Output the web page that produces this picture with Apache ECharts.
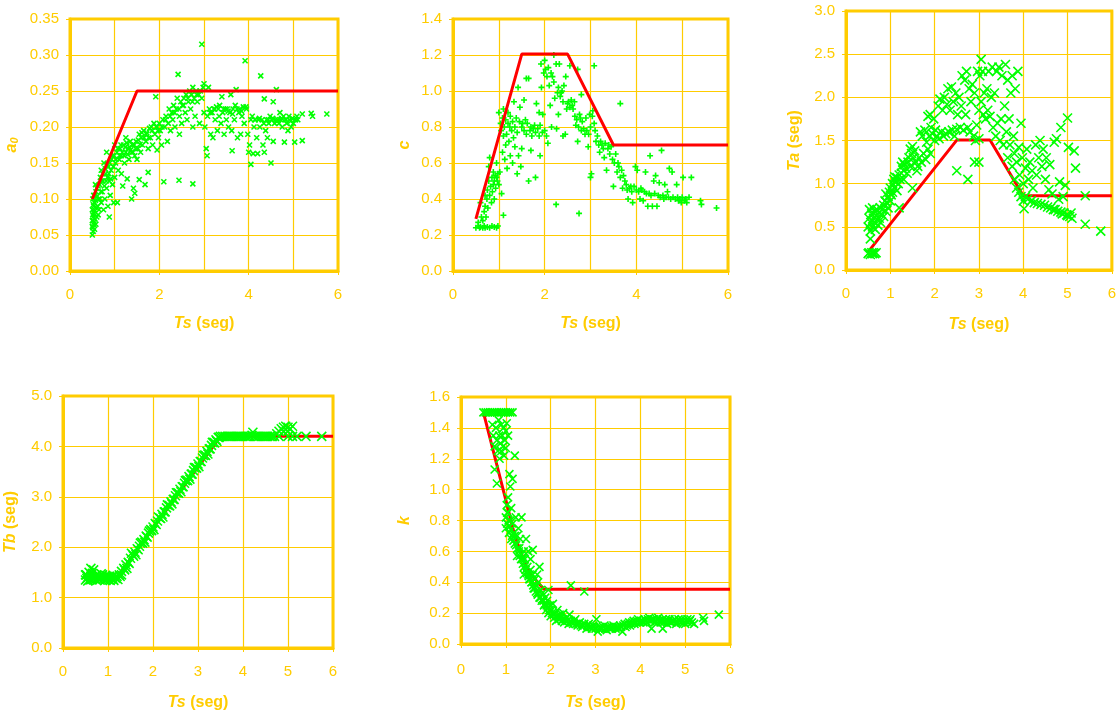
<!DOCTYPE html>
<html><head><meta charset="utf-8">
<script src="https://cdn.jsdelivr.net/npm/echarts@6/dist/echarts.min.js"></script>
<style>html,body{margin:0;padding:0;background:#fff}#c{width:1119px;height:715px}</style>
</head><body><div id="c"></div>
<script>
// ---------- DATA ----------
const a0Points = [[0.5,0.05],[0.52,0.055],[0.51,0.06],[0.53,0.065],[0.5,0.07],[0.52,0.075],[0.54,0.08],[0.5,0.085],[0.53,0.09],[0.55,0.095],[0.51,0.1],[0.56,0.105],[0.58,0.11],[0.6,0.115],[0.57,0.12],[0.62,0.09],[0.6,0.075],[0.58,0.065],[0.55,0.058],[0.64,0.1],[0.66,0.12],[0.65,0.085],[0.68,0.13],[0.7,0.095],[0.72,0.11],[0.7,0.14],[0.75,0.085],[0.74,0.125],[0.76,0.15],[0.78,0.1],[0.8,0.135],[0.82,0.115],[0.82,0.165],[0.85,0.09],[0.86,0.145],[0.88,0.125],[0.88,0.075],[0.9,0.105],[0.92,0.14],[0.95,0.12],[0.95,0.16],[0.98,0.095],[1.0,0.13],[1.0,0.175],[1.02,0.15],[1.05,0.165],[1.06,0.095],[1.08,0.14],[1.1,0.155],[1.12,0.17],[1.15,0.135],[1.15,0.16],[1.18,0.118],[1.2,0.175],[1.22,0.15],[1.25,0.165],[1.25,0.185],[1.28,0.128],[1.3,0.17],[1.32,0.155],[1.35,0.18],[1.38,0.1],[1.38,0.165],[1.4,0.175],[1.42,0.115],[1.45,0.16],[1.45,0.108],[1.48,0.18],[1.5,0.155],[1.52,0.17],[1.55,0.19],[1.55,0.127],[1.58,0.165],[1.6,0.185],[1.62,0.175],[1.65,0.195],[1.68,0.12],[1.7,0.18],[1.72,0.192],[1.75,0.137],[1.75,0.17],[1.78,0.198],[1.8,0.185],[1.82,0.2],[1.85,0.175],[1.88,0.205],[1.9,0.19],[1.92,0.242],[1.95,0.2],[1.95,0.168],[1.98,0.185],[2.0,0.205],[2.02,0.195],[2.05,0.175],[2.08,0.21],[2.1,0.124],[2.12,0.2],[2.15,0.215],[2.18,0.18],[2.2,0.205],[2.22,0.225],[2.25,0.195],[2.28,0.22],[2.3,0.21],[2.32,0.23],[2.35,0.2],[2.38,0.225],[2.4,0.24],[2.42,0.273],[2.44,0.126],[2.45,0.19],[2.45,0.215],[2.48,0.235],[2.5,0.205],[2.52,0.23],[2.55,0.24],[2.58,0.22],[2.6,0.245],[2.62,0.21],[2.65,0.235],[2.68,0.25],[2.7,0.225],[2.72,0.245],[2.75,0.121],[2.75,0.2],[2.75,0.255],[2.78,0.24],[2.8,0.215],[2.82,0.25],[2.85,0.235],[2.88,0.245],[2.9,0.205],[2.92,0.25],[2.95,0.315],[2.95,0.24],[2.98,0.255],[3.0,0.22],[3.0,0.26],[3.02,0.2],[3.05,0.17],[3.07,0.16],[3.08,0.215],[3.1,0.255],[3.12,0.225],[3.15,0.19],[3.18,0.22],[3.2,0.185],[3.22,0.225],[3.25,0.21],[3.28,0.228],[3.3,0.195],[3.32,0.225],[3.35,0.23],[3.38,0.205],[3.4,0.242],[3.42,0.22],[3.45,0.19],[3.48,0.225],[3.5,0.21],[3.52,0.225],[3.55,0.2],[3.58,0.22],[3.6,0.245],[3.62,0.195],[3.63,0.167],[3.65,0.225],[3.68,0.21],[3.7,0.23],[3.72,0.252],[3.75,0.185],[3.78,0.22],[3.8,0.225],[3.82,0.19],[3.85,0.215],[3.88,0.228],[3.9,0.205],[3.92,0.292],[3.95,0.225],[3.98,0.19],[4.0,0.165],[4.02,0.175],[4.05,0.148],[4.05,0.21],[4.08,0.215],[4.1,0.163],[4.12,0.2],[4.15,0.21],[4.18,0.185],[4.2,0.163],[4.22,0.21],[4.25,0.2],[4.27,0.271],[4.3,0.21],[4.32,0.175],[4.35,0.165],[4.35,0.239],[4.38,0.195],[4.4,0.21],[4.42,0.185],[4.45,0.205],[4.48,0.215],[4.5,0.15],[4.52,0.21],[4.55,0.18],[4.55,0.235],[4.58,0.205],[4.6,0.21],[4.62,0.252],[4.65,0.21],[4.68,0.205],[4.7,0.22],[4.72,0.21],[4.75,0.2],[4.78,0.215],[4.8,0.179],[4.82,0.21],[4.85,0.205],[4.88,0.195],[4.9,0.215],[4.92,0.21],[4.95,0.2],[4.98,0.212],[5.0,0.205],[5.03,0.179],[5.05,0.21],[5.08,0.215],[5.1,0.21],[5.2,0.181],[5.2,0.218],[5.4,0.219],[5.43,0.215],[5.75,0.218],
[0.5,0.062],[0.51,0.078],[0.52,0.092],[0.53,0.105],[0.54,0.068],[0.55,0.083],[0.56,0.072],[0.57,0.098],[0.59,0.088],[0.61,0.104],[0.63,0.078],[0.63,0.118],[0.67,0.1],[0.69,0.11],[0.71,0.125],[0.73,0.135],[0.77,0.118],[0.79,0.142],[0.81,0.125],[0.83,0.148],[0.84,0.13],[0.87,0.135],[0.89,0.15],[0.91,0.128],[0.93,0.155],[0.97,0.145],[0.99,0.16],[1.03,0.155],[1.07,0.17],[1.11,0.16],[1.14,0.175],[1.17,0.165],[1.21,0.16],[1.24,0.172],[1.27,0.178],[1.29,0.162],[1.33,0.172],[1.36,0.168],[1.41,0.165],[1.44,0.175],[1.47,0.17],[1.53,0.182],[1.57,0.176],[1.61,0.192],[1.66,0.185],[1.71,0.19],[1.76,0.185],[1.84,0.195],[1.93,0.2],[1.97,0.195],[2.06,0.2],[2.14,0.21],[2.24,0.215],[2.34,0.22],[2.44,0.225],[2.54,0.23],[2.64,0.24],[2.74,0.235],[2.84,0.245],[3.14,0.22],[3.24,0.225],[3.34,0.215],[3.44,0.225],[3.54,0.222],[3.64,0.218],[3.74,0.225],[3.84,0.222],[3.94,0.228],[4.14,0.21],[4.24,0.212],[4.34,0.205],[4.44,0.21],[4.54,0.212],[4.64,0.208],[4.74,0.212],[4.84,0.21],[4.94,0.208],[5.04,0.21]];
const a0Line = [[0.5,0.10],[1.5,0.25],[6,0.25]];

const cPoints = [[0.5,0.24],[0.55,0.25],[0.58,0.24],[0.6,0.245],[0.65,0.24],[0.68,0.25],[0.7,0.24],[0.75,0.245],[0.8,0.24],[0.85,0.25],[0.9,0.245],[0.95,0.24],[0.98,0.25],[0.55,0.27],[0.6,0.38],[0.62,0.3],[0.65,0.28],[0.68,0.33],[0.7,0.36],[0.7,0.42],[0.72,0.3],[0.74,0.4],[0.75,0.45],[0.76,0.35],[0.78,0.5],[0.78,0.58],[0.8,0.42],[0.8,0.63],[0.82,0.47],[0.84,0.38],[0.85,0.52],[0.86,0.44],[0.88,0.55],[0.88,0.48],[0.9,0.4],[0.9,0.5],[0.92,0.53],[0.93,0.46],[0.95,0.52],[0.95,0.6],[0.97,0.5],[0.98,0.54],[1.0,0.48],[1.0,0.88],[1.02,0.55],[1.04,0.82],[1.05,0.78],[1.06,0.43],[1.08,0.85],[1.08,0.66],[1.1,0.31],[1.1,0.75],[1.1,0.9],[1.12,0.8],[1.13,0.62],[1.15,0.7],[1.15,0.84],[1.17,0.76],[1.18,0.57],[1.2,0.82],[1.2,0.88],[1.22,0.72],[1.24,0.8],[1.25,0.64],[1.25,0.86],[1.28,0.78],[1.3,0.83],[1.3,0.6],[1.32,0.74],[1.33,0.94],[1.35,0.8],[1.35,0.69],[1.38,0.85],[1.4,0.77],[1.4,0.54],[1.42,1.02],[1.43,0.64],[1.45,0.83],[1.46,0.91],[1.48,0.58],[1.5,0.8],[1.5,0.68],[1.52,0.82],[1.55,0.78],[1.55,0.95],[1.58,0.84],[1.6,1.07],[1.6,0.76],[1.62,0.82],[1.65,0.5],[1.65,1.07],[1.68,0.78],[1.7,0.67],[1.7,0.8],[1.72,0.75],[1.75,0.79],[1.78,0.81],[1.8,0.52],[1.8,0.77],[1.82,0.93],[1.85,0.79],[1.88,0.88],[1.88,0.75],[1.9,0.81],[1.9,0.64],[1.92,1.15],[1.93,1.02],[1.95,0.77],[1.96,0.87],[1.98,1.1],[2.0,0.78],[2.0,1.17],[2.02,1.12],[2.04,0.75],[2.05,1.08],[2.07,0.71],[2.08,1.13],[2.1,1.03],[2.12,0.92],[2.14,1.1],[2.15,0.8],[2.17,1.08],[2.2,1.2],[2.2,1.05],[2.22,0.96],[2.25,0.37],[2.25,1.15],[2.26,0.79],[2.28,0.99],[2.3,1.02],[2.3,0.87],[2.32,1.15],[2.34,0.97],[2.36,0.99],[2.38,1.0],[2.4,0.94],[2.4,0.75],[2.42,1.03],[2.45,0.76],[2.46,1.08],[2.48,0.9],[2.5,0.93],[2.52,0.94],[2.55,0.91],[2.55,1.14],[2.58,0.95],[2.6,0.92],[2.62,0.9],[2.65,0.94],[2.66,0.86],[2.68,0.81],[2.7,0.84],[2.72,0.72],[2.72,1.12],[2.74,0.8],[2.75,0.32],[2.76,0.87],[2.78,0.85],[2.8,0.78],[2.8,0.98],[2.82,0.83],[2.85,0.79],[2.88,0.76],[2.9,0.85],[2.92,0.78],[2.95,0.69],[2.96,0.76],[2.98,0.87],[3.0,0.52],[3.0,0.8],[3.02,0.54],[3.04,0.86],[3.05,0.89],[3.08,1.14],[3.08,0.82],[3.1,0.78],[3.12,0.72],[3.15,0.75],[3.18,0.7],[3.2,0.66],[3.22,0.72],[3.25,0.7],[3.28,0.68],[3.3,0.63],[3.32,0.71],[3.35,0.56],[3.38,0.68],[3.4,0.7],[3.42,0.65],[3.45,0.69],[3.48,0.62],[3.5,0.47],[3.52,0.6],[3.55,0.65],[3.58,0.55],[3.6,0.6],[3.62,0.58],[3.65,0.93],[3.65,0.52],[3.68,0.56],[3.7,0.46],[3.72,0.53],[3.75,0.5],[3.78,0.48],[3.8,0.45],[3.82,0.4],[3.85,0.46],[3.88,0.47],[3.9,0.44],[3.92,0.38],[3.95,0.47],[3.98,0.58],[4.0,0.45],[4.02,0.56],[4.05,0.44],[4.08,0.4],[4.1,0.46],[4.12,0.45],[4.15,0.39],[4.18,0.44],[4.2,0.55],[4.22,0.43],[4.25,0.36],[4.28,0.43],[4.3,0.64],[4.32,0.42],[4.35,0.36],[4.38,0.5],[4.4,0.43],[4.42,0.53],[4.45,0.36],[4.48,0.42],[4.5,0.49],[4.52,0.41],[4.55,0.67],[4.58,0.42],[4.6,0.4],[4.62,0.48],[4.65,0.41],[4.68,0.44],[4.7,0.41],[4.72,0.57],[4.75,0.4],[4.78,0.55],[4.8,0.41],[4.85,0.4],[4.88,0.48],[4.9,0.41],[4.92,0.39],[4.95,0.4],[4.98,0.38],[5.0,0.41],[5.02,0.52],[5.05,0.39],[5.08,0.4],[5.1,0.38],[5.15,0.41],[5.2,0.52],[5.4,0.39],[5.42,0.37],[5.75,0.35]];
const cLine = [[0.5,0.29],[1.5,1.205],[2.5,1.205],[3.5,0.70],[6,0.70]];

const taPoints = [[0.5,0.19],[0.52,0.2],[0.55,0.18],[0.58,0.2],[0.6,0.19],[0.62,0.2],[0.65,0.19],[0.68,0.2],[0.55,0.36],[0.5,0.5],[0.52,0.6],[0.53,0.7],[0.55,0.45],[0.56,0.55],[0.58,0.65],[0.6,0.72],[0.6,0.5],[0.62,0.6],[0.64,0.68],[0.65,0.55],[0.66,0.47],[0.68,0.63],[0.7,0.7],[0.7,0.58],[0.72,0.52],[0.74,0.66],[0.75,0.6],[0.77,0.72],[0.78,0.55],[0.8,0.65],[0.82,0.7],[0.85,0.75],[0.85,0.62],[0.88,0.8],[0.9,0.68],[0.9,0.88],[0.92,0.78],[0.95,0.85],[0.95,0.72],[0.98,0.9],[1.0,0.8],[1.0,0.95],[1.02,0.87],[1.05,1.0],[1.05,0.9],[1.08,1.05],[1.1,0.95],[1.1,1.08],[1.12,1.02],[1.15,1.07],[1.15,0.92],[1.18,1.0],[1.2,1.1],[1.2,0.72],[1.22,1.05],[1.25,1.2],[1.25,1.12],[1.28,1.25],[1.3,1.15],[1.3,1.05],[1.32,1.22],[1.35,1.18],[1.38,1.12],[1.4,1.25],[1.42,1.3],[1.45,1.4],[1.45,1.2],[1.48,1.35],[1.5,1.43],[1.5,0.95],[1.52,1.3],[1.55,1.38],[1.58,1.25],[1.6,1.15],[1.62,1.2],[1.65,1.3],[1.68,1.6],[1.7,1.25],[1.72,1.55],[1.75,1.35],[1.78,1.62],[1.8,1.28],[1.82,1.48],[1.85,1.78],[1.85,1.4],[1.88,1.55],[1.9,1.8],[1.9,1.35],[1.92,1.65],[1.95,1.58],[1.98,1.75],[2.0,1.5],[2.02,1.62],[2.05,1.55],[2.08,1.9],[2.1,1.52],[2.12,1.98],[2.15,1.6],[2.18,1.85],[2.2,1.55],[2.22,2.0],[2.25,1.58],[2.28,1.92],[2.3,2.1],[2.32,1.6],[2.35,1.85],[2.38,2.12],[2.4,1.62],[2.42,1.95],[2.45,1.55],[2.48,2.05],[2.5,1.15],[2.5,1.63],[2.52,1.8],[2.55,2.0],[2.58,1.65],[2.6,1.9],[2.62,2.25],[2.65,1.62],[2.68,2.2],[2.7,1.8],[2.72,2.3],[2.75,1.05],[2.75,1.65],[2.78,2.1],[2.8,1.6],[2.82,1.95],[2.85,2.15],[2.88,1.55],[2.9,1.25],[2.9,2.05],[2.92,1.5],[2.95,1.68],[2.97,2.3],[3.0,1.25],[3.0,1.52],[3.0,1.85],[3.02,2.25],[3.05,2.44],[3.05,1.95],[3.08,2.3],[3.1,1.8],[3.12,2.05],[3.15,1.75],[3.18,2.1],[3.2,1.85],[3.22,2.3],[3.25,1.78],[3.28,2.0],[3.3,2.35],[3.32,1.65],[3.35,2.05],[3.38,1.55],[3.4,2.3],[3.42,1.7],[3.45,2.35],[3.48,1.5],[3.5,1.75],[3.52,2.25],[3.55,1.45],[3.58,1.9],[3.6,2.38],[3.62,1.6],[3.65,1.3],[3.65,2.2],[3.68,1.75],[3.7,1.45],[3.72,2.05],[3.75,1.2],[3.75,2.25],[3.78,1.55],[3.8,1.05],[3.8,1.35],[3.82,2.1],[3.85,0.95],[3.85,1.25],[3.88,2.3],[3.9,1.42],[3.9,0.9],[3.92,1.1],[3.95,1.7],[3.95,0.85],[3.98,1.3],[4.0,0.8],[4.0,1.0],[4.02,0.71],[4.05,1.18],[4.05,0.85],[4.08,1.4],[4.1,0.82],[4.12,1.05],[4.15,1.25],[4.18,0.8],[4.2,1.15],[4.22,0.95],[4.25,0.78],[4.28,1.45],[4.3,1.1],[4.32,0.77],[4.35,1.3],[4.38,1.5],[4.4,0.76],[4.42,1.2],[4.45,1.4],[4.48,0.75],[4.5,1.05],[4.52,1.3],[4.55,0.73],[4.58,0.93],[4.6,1.22],[4.62,0.72],[4.65,0.88],[4.68,0.7],[4.7,1.48],[4.72,0.7],[4.75,1.52],[4.78,0.68],[4.8,0.82],[4.82,1.02],[4.85,0.67],[4.85,1.65],[4.88,0.65],[4.9,0.85],[4.92,0.66],[4.95,0.98],[4.98,0.64],[5.0,1.76],[5.0,0.63],[5.02,1.42],[5.05,0.62],[5.08,0.66],[5.1,0.6],[5.15,1.38],[5.18,1.18],[5.4,0.86],[5.4,0.53],[5.75,0.45]];
const taLine = [[0.5,0.21],[2.5,1.505],[3.25,1.505],[4.0,0.86],[6,0.86]];

const tbPoints = [[0.5,1.35],[0.52,1.45],[0.55,1.4],[0.58,1.5],[0.6,1.35],[0.62,1.42],[0.65,1.38],[0.68,1.55],[0.7,1.4],[0.72,1.36],[0.75,1.45],[0.78,1.38],[0.8,1.42],[0.82,1.35],[0.85,1.4],[0.88,1.45],[0.9,1.37],[0.92,1.4],[0.95,1.36],[0.98,1.42],[1.0,1.38],[1.02,1.35],[1.05,1.4],[1.08,1.37],[1.1,1.42],[1.12,1.36],[1.15,1.4],[1.18,1.38],[1.2,1.42],[0.55,1.33],[0.65,1.48],[0.75,1.34],[0.85,1.47],[0.95,1.44],[1.05,1.34],[0.62,1.58],[0.5,1.45],[0.53,1.38],[0.63,1.36],[0.73,1.42],[0.83,1.38],[0.93,1.34],[1.03,1.42],[1.13,1.34],[1.22,1.36],[1.25,1.45],[1.3,1.52],[1.35,1.58],[1.4,1.65],[1.45,1.7],[1.5,1.78],[1.55,1.85],[1.6,1.9],[1.65,1.97],[1.7,2.02],[1.75,2.1],[1.8,2.15],[1.85,2.22],[1.9,2.28],[1.95,2.35],[2.0,2.4],[2.05,2.47],[2.1,2.52],[2.15,2.58],[2.2,2.65],[2.25,2.7],[2.3,2.78],[2.35,2.83],[2.4,2.9],[2.45,2.95],[2.5,3.02],[2.55,3.08],[2.6,3.15],[2.65,3.2],[2.7,3.27],[2.75,3.33],[2.8,3.4],[2.85,3.45],[2.9,3.52],[2.95,3.58],[3.0,3.65],[3.05,3.7],[3.1,3.77],[3.15,3.83],[3.2,3.9],[3.25,3.95],[3.3,4.02],[3.35,4.08],[3.4,4.13],[3.45,4.18],[3.5,4.2],[1.3,1.45],[1.42,1.58],[1.52,1.88],[1.62,1.85],[1.72,2.08],[1.82,2.1],[1.92,2.32],[2.02,2.35],[2.12,2.6],[2.22,2.6],[2.32,2.84],[2.42,2.86],[2.52,3.08],[2.62,3.1],[2.72,3.32],[2.82,3.35],[2.92,3.58],[3.02,3.6],[3.12,3.82],[3.22,3.85],[3.32,4.08],[3.42,4.1],[1.27,1.42],[1.37,1.55],[1.47,1.68],[1.57,1.82],[1.67,1.95],[1.77,2.08],[1.87,2.2],[1.97,2.33],[2.07,2.45],[2.17,2.57],[2.27,2.7],[2.37,2.82],[2.47,2.95],[2.57,3.07],[2.67,3.2],[2.77,3.32],[2.87,3.45],[2.97,3.57],[3.07,3.7],[3.17,3.82],[3.27,3.95],[3.37,4.07],[3.47,4.18],[3.55,4.2],[3.6,4.2],[3.65,4.2],[3.7,4.2],[3.75,4.2],[3.8,4.2],[3.85,4.2],[3.9,4.2],[3.95,4.2],[4.0,4.2],[4.05,4.2],[4.1,4.2],[4.15,4.2],[4.2,4.22],[4.22,4.28],[4.25,4.2],[4.3,4.2],[4.35,4.2],[4.4,4.2],[4.45,4.2],[4.5,4.2],[4.55,4.2],[4.6,4.2],[4.65,4.2],[4.7,4.2],[4.75,4.25],[4.8,4.3],[4.85,4.35],[4.9,4.38],[4.95,4.4],[5.0,4.38],[5.05,4.35],[5.1,4.4],[4.9,4.3],[5.0,4.3],[4.8,4.2],[5.0,4.2],[5.1,4.2],[5.2,4.2],[5.4,4.2],[5.75,4.2]];
const tbLine = [[0.5,1.4],[1.2,1.4],[3.5,4.2],[6,4.2]];

const kPoints = [[0.5,1.5],[0.55,1.5],[0.6,1.5],[0.65,1.5],[0.7,1.5],[0.75,1.5],[0.8,1.5],[0.85,1.5],[0.9,1.5],[0.95,1.5],[1.0,1.5],[1.05,1.5],[1.1,1.5],[1.15,1.5],[0.7,1.42],[0.72,1.35],[0.75,1.28],[0.75,1.13],[0.78,1.4],[0.8,1.32],[0.8,1.04],[0.82,1.25],[0.84,1.45],[0.85,1.35],[0.86,1.2],[0.88,1.3],[0.9,1.42],[0.9,1.25],[0.92,1.35],[0.94,1.28],[0.95,1.4],[0.96,1.22],[0.98,1.32],[1.0,1.38],[1.0,1.27],[1.02,1.43],[1.05,1.35],[1.0,0.82],[1.0,0.75],[1.02,0.9],[1.03,0.78],[1.05,0.85],[1.05,0.95],[1.07,0.72],[1.08,1.1],[1.1,0.8],[1.1,1.02],[1.12,0.88],[1.12,0.68],[1.15,1.07],[1.15,0.78],[1.18,0.72],[1.2,1.22],[1.2,0.65],[1.22,0.82],[1.25,0.7],[1.25,0.57],[1.28,0.75],[1.3,0.62],[1.32,0.68],[1.35,0.58],[1.35,0.82],[1.38,0.52],[1.4,0.6],[1.4,0.45],[1.42,0.55],[1.45,0.68],[1.48,0.5],[1.5,0.45],[1.5,0.6],[1.52,0.42],[1.55,0.55],[1.55,0.48],[1.58,0.4],[1.6,0.61],[1.6,0.45],[1.62,0.36],[1.65,0.42],[1.68,0.38],[1.7,0.33],[1.7,0.45],[1.72,0.4],[1.75,0.5],[1.75,0.3],[1.78,0.35],[1.8,0.28],[1.82,0.33],[1.85,0.25],[1.88,0.3],[1.9,0.22],[1.92,0.28],[1.95,0.35],[1.95,0.2],[1.98,0.25],[2.0,0.18],[2.02,0.22],[2.05,0.26],[2.08,0.17],[2.1,0.2],[2.12,0.15],[2.15,0.22],[2.18,0.16],[2.2,0.19],[2.25,0.15],[2.28,0.2],[2.3,0.14],[2.35,0.17],[2.4,0.13],[2.42,0.19],[2.45,0.38],[2.45,0.15],[2.5,0.13],[2.55,0.16],[2.6,0.12],[2.65,0.14],[2.7,0.11],[2.75,0.34],[2.75,0.13],[2.8,0.1],[2.85,0.13],[2.9,0.11],[2.95,0.12],[3.0,0.1],[3.02,0.16],[3.05,0.08],[3.1,0.11],[3.15,0.1],[3.2,0.12],[3.25,0.09],[3.3,0.11],[3.35,0.1],[3.4,0.12],[3.45,0.1],[3.5,0.11],[3.55,0.12],[3.6,0.08],[3.65,0.13],[3.7,0.12],[3.75,0.14],[3.8,0.13],[3.85,0.15],[3.9,0.14],[3.95,0.16],[4.0,0.14],[4.05,0.15],[4.1,0.16],[4.15,0.14],[4.2,0.17],[4.25,0.1],[4.3,0.16],[4.35,0.15],[4.4,0.17],[4.45,0.14],[4.5,0.1],[4.5,0.16],[4.55,0.15],[4.6,0.13],[4.65,0.16],[4.7,0.14],[4.75,0.15],[4.8,0.13],[4.85,0.16],[4.9,0.14],[4.95,0.15],[5.0,0.13],[5.05,0.16],[5.1,0.15],[5.15,0.14],[5.2,0.13],[5.4,0.17],[5.42,0.15],[5.75,0.19],
[1.03,0.85],[1.06,0.8],[1.08,0.76],[1.11,0.74],[1.14,0.7],[1.17,0.67],[1.2,0.7],[1.23,0.64],[1.26,0.62],[1.29,0.6],[1.31,0.57],[1.34,0.55],[1.37,0.55],[1.41,0.5],[1.44,0.48],[1.47,0.46],[1.51,0.44],[1.54,0.42],[1.57,0.4],[1.61,0.38],[1.64,0.36],[1.67,0.34],[1.71,0.32],[1.74,0.34],[1.77,0.3],[1.81,0.29],[1.84,0.28],[1.87,0.26],[1.91,0.25],[1.94,0.24],[1.97,0.22],[2.03,0.2],[2.07,0.19],[2.13,0.18],[2.17,0.18],[2.23,0.17],[2.27,0.16],[2.33,0.16],[2.37,0.15],[2.47,0.14],[2.52,0.15],[2.57,0.13],[2.62,0.13],[2.67,0.12],[2.72,0.12],[2.82,0.12],[2.87,0.11],[2.92,0.1],[2.97,0.11],[3.07,0.1],[3.12,0.1],[3.17,0.11],[3.22,0.1],[3.27,0.11],[3.32,0.1],[3.37,0.11],[3.42,0.11],[3.47,0.11],[3.52,0.1],[3.57,0.11],[3.62,0.12],[3.67,0.11],[3.72,0.13],[3.77,0.12],[3.82,0.14],[3.87,0.13],[3.92,0.15],[3.97,0.14],[4.02,0.15],[4.07,0.14],[4.12,0.15],[4.17,0.16],[4.22,0.15],[4.27,0.16],[4.32,0.14],[4.37,0.16],[4.42,0.15],[4.47,0.15],[4.52,0.14],[4.57,0.16],[4.62,0.15],[4.67,0.14],[4.72,0.15],[4.77,0.16],[4.82,0.14],[4.87,0.15],[4.92,0.16],[4.97,0.14],[5.02,0.15],[5.07,0.14],[5.12,0.16]];
const kLine = [[0.5,1.5],[1.02,0.91],[1.2,0.7],[1.5,0.47],[1.85,0.355],[6,0.355]];

const xTitle = 'Ts';
const yTitles = ['a0', 'c', 'Ta', 'Tb', 'k'];
// ---------- STYLE ----------
const GOLD = '#FFCC00', GREEN = '#00FF00', RED = '#FF0000';
const FONT = 'Liberation Sans';
const X_PATH = 'path://M0,0L10,10M10,0L0,10';
const PLUS_PATH = 'path://M5,0L5,10M0,5L10,5';

const grids = [
  {left:70, top:19, width:268, height:252},
  {left:453, top:19, width:275, height:252},
  {left:846, top:11, width:276, height:259},
  {left:63, top:396, width:270, height:252},
  {left:461, top:397, width:269, height:247}
];
const yCfg = [
  {max:0.35, interval:0.05, dec:2, gap:50},
  {max:1.4, interval:0.2, dec:1, gap:40},
  {max:3.0, interval:0.5, dec:1, gap:43},
  {max:5.0, interval:1.0, dec:1, gap:44},
  {max:1.6, interval:0.2, dec:1, gap:48}
];
const xGaps = [45, 45, 47, 47, 51];
const xLabelMargin = [16, 16, 16, 16, 18];
const xEven = [true, true, false, false, false];

const richName = {
  i:{fontFamily:FONT, fontSize:16, fontWeight:'bold', fontStyle:'italic', color:GOLD},
  b:{fontFamily:FONT, fontSize:16, fontWeight:'bold', color:GOLD},
  sub:{fontFamily:FONT, fontSize:11, fontWeight:'bold', fontStyle:'italic', color:GOLD, verticalAlign:'bottom', padding:[6,0,0,0]}
};
function yName(t){
  if (t === 'a0') return '{i|a}{sub|0}';
  if (t === 'Ta' || t === 'Tb') return '{i|' + t + '}{b| (seg)}';
  return '{i|' + t + '}';
}

const xAxes = [], yAxes = [], series = [];
grids.forEach((g, i) => {
  xAxes.push({
    type:'value', gridIndex:i, min:0, max:6, interval: xEven[i] ? 2 : 1,
    name:'{i|' + xTitle + '}{b| (seg)}', nameLocation:'middle', nameGap:xGaps[i],
    nameTextStyle:{rich:richName},
    axisLine:{show:true, onZero:false, lineStyle:{color:GOLD, width:3}},
    axisTick:{show:true, length:4, lineStyle:{color:GOLD, width:1}},
    axisLabel:{color:GOLD, fontFamily:FONT, fontSize:15, margin:xLabelMargin[i]},
    splitLine:{show:true, lineStyle:{color:GOLD, width:1.2}},
    minorTick:{show:false, splitNumber:2},
    minorSplitLine:{show: xEven[i], lineStyle:{color:GOLD, width:1.2}}
  });
  const c = yCfg[i];
  yAxes.push({
    type:'value', gridIndex:i, min:0, max:c.max, interval:c.interval,
    name:yName(yTitles[i]), nameLocation:'middle', nameRotate:90, nameGap:c.gap,
    nameTextStyle:{rich:richName},
    axisLine:{show:true, onZero:false, lineStyle:{color:GOLD, width:3}},
    axisTick:{show:true, length:4, lineStyle:{color:GOLD, width:1}},
    axisLabel:{color:GOLD, fontFamily:FONT, fontSize:15, margin:11, formatter:v => v.toFixed(c.dec)},
    splitLine:{show:true, lineStyle:{color:GOLD, width:1.2}}
  });
});

const scatterSets = [a0Points, cPoints, taPoints, tbPoints, kPoints];
const lineSets = [a0Line, cLine, taLine, tbLine, kLine];
const symbols = [X_PATH, PLUS_PATH, X_PATH, X_PATH, X_PATH];
const sizes = [5, 6, 9, 9, 8];
const lineOnTop = [true, true, false, false, false];

scatterSets.forEach((pts, i) => {
  series.push({
    type:'scatter', xAxisIndex:i, yAxisIndex:i, data:pts, symbol:symbols[i], symbolSize:sizes[i],
    itemStyle:{color:'rgba(0,0,0,0)', borderColor:GREEN, borderWidth:1.6, opacity:1},
    z: lineOnTop[i] ? 2 : 4, silent:true, animation:false
  });
  series.push({
    type:'line', xAxisIndex:i, yAxisIndex:i, data:lineSets[i], symbol:'none',
    lineStyle:{color:RED, width:3}, z: lineOnTop[i] ? 4 : 2, silent:true, animation:false
  });
});

const chart = echarts.init(document.getElementById('c'), null, {renderer:'canvas'});
chart.setOption({
  animation:false,
  backgroundColor:'#ffffff',
  grid: grids.map(g => Object.assign({show:true, borderColor:GOLD, borderWidth:3, backgroundColor:'#fff'}, g)),
  xAxis: xAxes, yAxis: yAxes, series: series
});
</script></body></html>
